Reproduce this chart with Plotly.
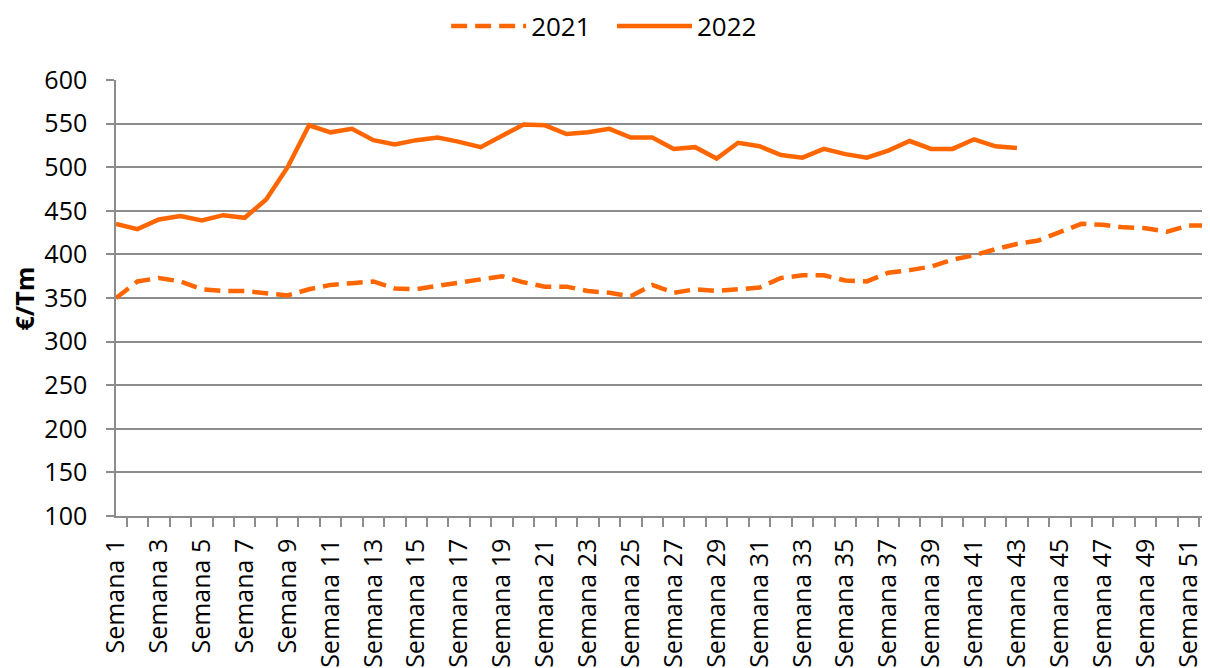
import plotly.graph_objects as go

weeks = [f"Semana {i}" for i in range(1, 53)]
tick_text = [w if (i % 2 == 0) else "" for i, w in enumerate(weeks)]

prices_2021 = [350, 369, 373, 369, 360, 358, 358, 355, 353, 360,
               365, 367, 369, 361, 360, 364, 368, 372, 375, 368,
               363, 363, 358, 356, 352, 365, 356, 360, 358, 360,
               362, 373, 376, 376, 370, 369, 379, 382, 386, 394,
               399, 406, 412, 416, 425, 435, 434, 431, 430, 426,
               433, 433]

prices_2022 = [435, 429, 440, 444, 439, 445, 442, 463, 500, 548,
               540, 544, 531, 526, 531, 534, 529, 523, 536, 549,
               548, 538, 540, 544, 534, 534, 521, 523, 510, 528,
               524, 514, 511, 521, 515, 511, 519, 530, 521, 521,
               532, 524, 522]

ORANGE = "#FF6600"
GRID = "#8C8C8C"
FONT = "Open Sans"

# page body has an 8px margin, so the figure is drawn 8px in and down
fig = go.Figure()
fig.add_trace(go.Scatter(x=weeks, y=prices_2021, name="2021", mode="lines",
                         legend="legend",
                         line=dict(color=ORANGE, width=4.5, dash="16px,8px")))
fig.add_trace(go.Scatter(x=weeks[:len(prices_2022)], y=prices_2022, name="2022", mode="lines",
                         legend="legend2",
                         line=dict(color=ORANGE, width=4.5)))

leg_common = dict(orientation="h", xref="container", yref="container",
                  xanchor="left", y=0.9727, yanchor="middle",
                  itemwidth=75, font=dict(size=26), bgcolor="rgba(0,0,0,0)")

fig.update_layout(
    width=1202, height=660,
    margin=dict(l=108, r=0, t=72, b=152),
    paper_bgcolor="white", plot_bgcolor="white",
    font=dict(family=FONT, size=25, color="black"),
    showlegend=True,
    legend=dict(x=0.3645, **leg_common),
    legend2=dict(x=0.5025, **leg_common),
    xaxis=dict(type="category", tickmode="array", tickvals=weeks, ticktext=tick_text,
               tickangle=-90, tickson="boundaries", ticks="outside", ticklen=9,
               tickcolor=GRID, tickwidth=1.5, showgrid=False,
               showline=True, linecolor=GRID, linewidth=1.5,
               ticklabelstandoff=11, automargin=False,
               tickfont=dict(size=25)),
    yaxis=dict(range=[100, 600], dtick=50, tick0=100, ticks="outside", ticklen=8,
               tickcolor=GRID, tickwidth=1.5, showgrid=True, gridcolor=GRID,
               gridwidth=1.5, showline=True, linecolor=GRID, linewidth=1.5,
               zeroline=False, ticklabelstandoff=14, automargin=False,
               tickfont=dict(size=25)),
    annotations=[dict(text="<b>€/Tm</b>", textangle=-90, showarrow=False,
                      xref="paper", yref="paper", x=-0.0837, y=0.5,
                      xanchor="center", yanchor="middle",
                      font=dict(size=25, family=FONT, color="black"))],
)

fig.write_html("out.html")
